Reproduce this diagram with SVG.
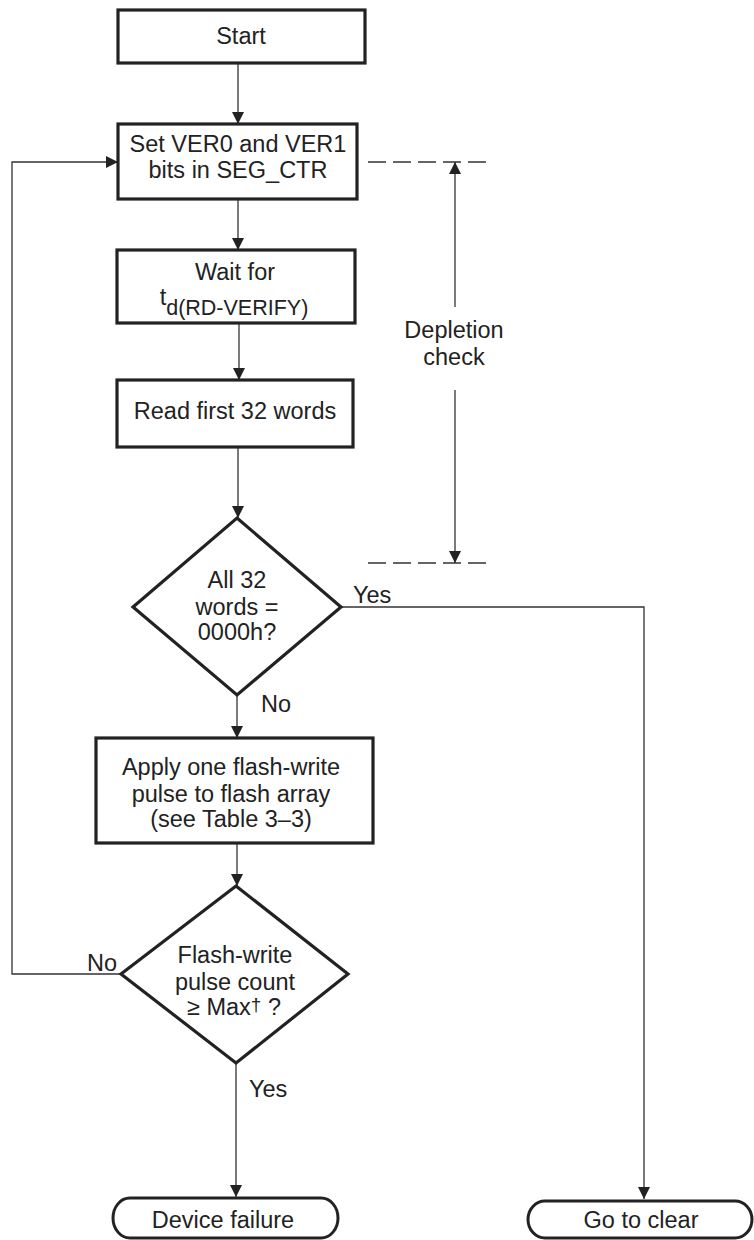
<svg xmlns="http://www.w3.org/2000/svg" width="754" height="1240" viewBox="0 0 754 1240">
<style>
  .box { fill: #fff; stroke: #222; stroke-width: 3.2; }
  .term { fill: #fff; stroke: #222; stroke-width: 3; }
  .con { fill: none; stroke: #333; stroke-width: 1.3; }
  .dash { fill: none; stroke: #333; stroke-width: 1.3; stroke-dasharray: 18 7; }
  text { font-family: "Liberation Sans", Arial, sans-serif; font-size: 23.5px; fill: #222; }
  .c { text-anchor: middle; }
</style>
<defs>
  <marker id="arr" markerUnits="userSpaceOnUse" markerWidth="12" markerHeight="12" refX="12" refY="6" orient="auto">
    <path d="M0,0 L12,6 L0,12 Z" fill="#222"/>
  </marker>
</defs>
<rect width="754" height="1240" fill="#fff"/>
<g id="connectors">
  <line class="con" x1="238" y1="63" x2="238" y2="124" marker-end="url(#arr)"/>
  <line class="con" x1="238" y1="199" x2="238" y2="250" marker-end="url(#arr)"/>
  <line class="con" x1="239" y1="323" x2="239" y2="380" marker-end="url(#arr)"/>
  <line class="con" x1="238" y1="447" x2="238" y2="518" marker-end="url(#arr)"/>
  <line class="con" x1="237" y1="695" x2="237" y2="738" marker-end="url(#arr)"/>
  <line class="con" x1="237" y1="843" x2="237" y2="886" marker-end="url(#arr)"/>
  <polyline class="con" points="121,974 12,974 12,162 118,162" marker-end="url(#arr)"/>
  <line class="con" x1="236" y1="1063" x2="236" y2="1197" marker-end="url(#arr)"/>
  <polyline class="con" points="341,607 644,607 644,1199" marker-end="url(#arr)"/>
  <line class="dash" x1="368" y1="162" x2="487" y2="162"/>
  <line class="dash" x1="368" y1="563" x2="487" y2="563"/>
  <line class="con" x1="455" y1="307" x2="455" y2="162" marker-end="url(#arr)"/>
  <line class="con" x1="455" y1="390" x2="455" y2="563" marker-end="url(#arr)"/>
  <text x="353" y="603">Yes</text>
  <text x="261" y="712">No</text>
  <text x="117" y="971" text-anchor="end">No</text>
  <text x="249" y="1097">Yes</text>
  <text class="c" x="454" y="338">Depletion</text>
  <text class="c" x="454" y="365">check</text>
</g>
<g id="start">
  <rect class="box" x="118" y="10" width="247" height="53"/>
  <text class="c" x="241" y="44">Start</text>
</g>
<g id="set-ver">
  <rect class="box" x="118" y="124" width="239" height="75"/>
  <text class="c" x="238" y="152">Set VER0 and VER1</text>
  <text class="c" x="238" y="178">bits in SEG_CTR</text>
</g>
<g id="wait">
  <rect class="box" x="117" y="250" width="238" height="73"/>
  <text class="c" x="235" y="280">Wait for</text>
  <text class="c" x="234" y="305">t<tspan dy="10" font-size="21.5">d(RD-VERIFY)</tspan></text>
</g>
<g id="read">
  <rect class="box" x="117" y="380" width="236" height="67"/>
  <text class="c" x="235" y="419">Read first 32 words</text>
</g>
<g id="check-zero">
  <polygon class="box" points="237,518 341,607 237,695 133,607"/>
  <text class="c" x="237" y="588">All 32</text>
  <text class="c" x="237" y="615">words =</text>
  <text class="c" x="237" y="640">0000h?</text>
</g>
<g id="apply-pulse">
  <rect class="box" x="96" y="738" width="277" height="105"/>
  <text class="c" x="231" y="775">Apply one flash-write</text>
  <text class="c" x="231" y="802">pulse to flash array</text>
  <text class="c" x="231" y="827">(see Table 3–3)</text>
</g>
<g id="check-max">
  <polygon class="box" points="236,886 348,974 236,1063 121,974"/>
  <text class="c" x="235" y="963">Flash-write</text>
  <text class="c" x="235" y="990">pulse count</text>
  <text class="c" x="234" y="1015">≥ Max<tspan font-size="19" dy="-4">†</tspan><tspan dy="4"> ?</tspan></text>
</g>
<g id="device-failure">
  <rect class="term" x="113" y="1198" width="225" height="40" rx="17" ry="20"/>
  <text class="c" x="223" y="1228">Device failure</text>
</g>
<g id="go-to-clear">
  <rect class="term" x="528" y="1201" width="224" height="37" rx="17" ry="18.5"/>
  <text class="c" x="641" y="1228">Go to clear</text>
</g>
</svg>
